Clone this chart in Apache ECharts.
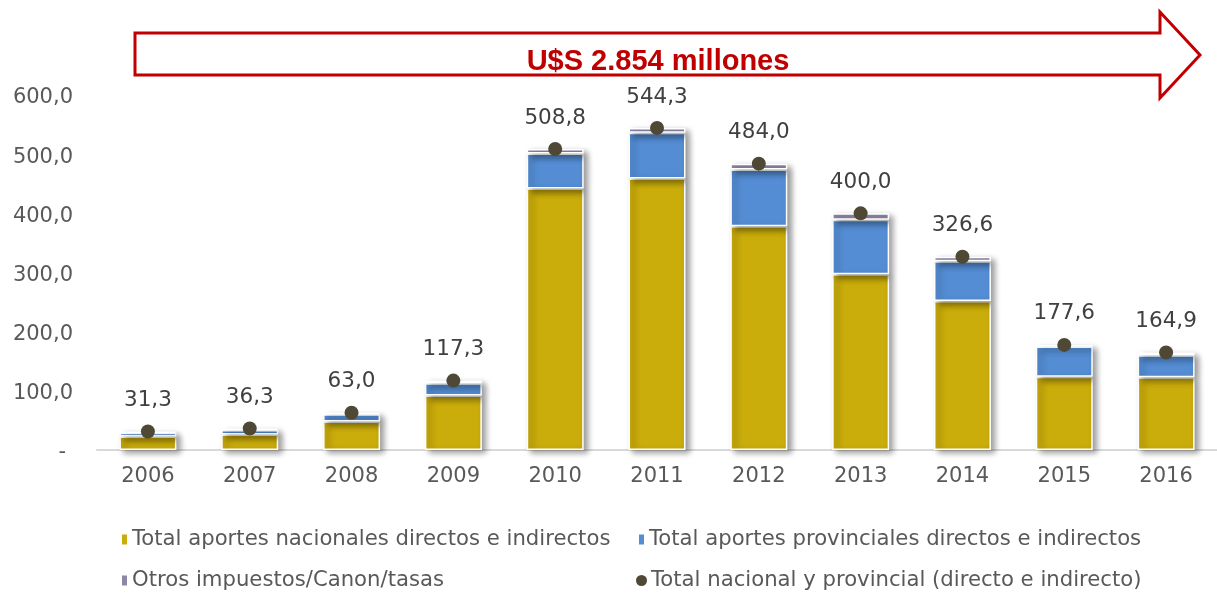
<!DOCTYPE html>
<html>
<head>
<meta charset="utf-8">
<script src="https://cdn.jsdelivr.net/npm/echarts@6/dist/echarts.min.js"></script>
<style>
  html, body { margin: 0; padding: 0; background: #fff; }
  #chart { width: 1217px; height: 595px; }
</style>
</head>
<body>
<div id="chart"></div>
<script>
// Years on the category axis
const years = ['2006', '2007', '2008', '2009', '2010', '2011', '2012', '2013', '2014', '2015', '2016'];

// Stacked contributions (millones de U$S)
const nacionales = [23, 26, 48, 92, 442, 459, 378, 297, 252, 124, 123];
const provinciales = [6, 8, 12.5, 21, 59, 77, 96, 92, 67, 51, 37];
const otros = [2.3, 2.3, 2.5, 4.3, 7.8, 8.3, 10, 11, 7.6, 2.6, 4.9];

// Total per year (labelled dots)
const totales = [31.3, 36.3, 63.0, 117.3, 508.8, 544.3, 484.0, 400.0, 326.6, 177.6, 164.9];

// Y axis ticks
const yTicks = [0, 100, 200, 300, 400, 500, 600];

const names = [
  'Total aportes nacionales directos e indirectos',
  'Total aportes provinciales directos e indirectos',
  'Otros impuestos/Canon/tasas',
  'Total nacional y provincial (directo e indirecto)'
];

const fmt = v => v.toFixed(1).replace('.', ',');
const font = '"DejaVu Sans", sans-serif';

const chart = echarts.init(document.getElementById('chart'));

const barStyle = color => ({
  color: color,
  borderColor: '#ffffff',
  borderWidth: 1.5,
  shadowColor: 'rgba(0,0,0,0.4)',
  shadowBlur: 6,
  shadowOffsetX: 4,
  shadowOffsetY: 3
});

const legendBase = {
  itemWidth: 7,
  itemHeight: 12,
  itemGap: 4,
  textStyle: { fontFamily: font, fontSize: 21.2, color: '#595959', padding: [0, 0, 0, -1] },
  selectedMode: false
};

const yLabelText = { fontSize: 21, color: '#595959', fontFamily: font };

chart.setOption({
  animation: false,
  textStyle: { fontFamily: font },
  grid: { left: 97, top: 95, width: 1124, height: 355 },
  xAxis: {
    type: 'category',
    data: years,
    axisLine: { lineStyle: { color: '#d9d9d9', width: 2 } },
    axisTick: { show: false },
    axisLabel: { fontSize: 21, color: '#595959', margin: 16, fontFamily: font }
  },
  yAxis: {
    type: 'value',
    min: yTicks[0],
    max: yTicks[yTicks.length - 1],
    interval: yTicks[1] - yTicks[0],
    splitLine: { show: false },
    axisLine: { show: false },
    axisTick: { show: false },
    axisLabel: {
      margin: 24,
      formatter: v => (v === 0 ? '{z|-}' : '{n|' + fmt(v) + '}'),
      rich: {
        n: Object.assign({ padding: [6, 0, 0, 0] }, yLabelText),
        z: Object.assign({ padding: [6, 7, 0, 0] }, yLabelText)
      }
    }
  },
  legend: [
    Object.assign({}, legendBase, { data: [{ name: names[0], icon: 'rect' }], left: 115, top: 524 }),
    Object.assign({}, legendBase, { data: [{ name: names[1], icon: 'rect' }], left: 632, top: 524 }),
    Object.assign({}, legendBase, { data: [{ name: names[2], icon: 'rect' }], left: 115, top: 565 }),
    Object.assign({}, legendBase, { data: [{ name: names[3], icon: 'circle' }], left: 631, top: 565, itemWidth: 11, itemHeight: 14 })
  ],
  graphic: [
    {
      type: 'polygon',
      z: 1,
      shape: {
        points: [[135, 33], [1160, 33], [1160, 12], [1200, 55], [1160, 98], [1160, 75], [135, 75]]
      },
      style: { fill: '#ffffff', stroke: '#c00000', lineWidth: 3 }
    },
    {
      type: 'text',
      z: 2,
      style: {
        text: 'U$S 2.854 millones',
        x: 658,
        y: 62,
        align: 'center',
        verticalAlign: 'middle',
        fill: '#c00000',
        font: 'bold 29px "Liberation Sans", Arial, sans-serif'
      }
    }
  ],
  series: [
    { name: names[0], type: 'bar', stack: 'total', barWidth: 57, data: nacionales, itemStyle: barStyle('#caac0b') },
    { name: names[1], type: 'bar', stack: 'total', barWidth: 57, data: provinciales, itemStyle: barStyle('#548dd4') },
    { name: names[2], type: 'bar', stack: 'total', barWidth: 57, data: otros, itemStyle: barStyle('#8d88a8') },
    {
      name: names[3],
      type: 'scatter',
      data: totales,
      symbol: 'circle',
      symbolSize: 14,
      z: 5,
      itemStyle: { color: '#4f4835', opacity: 1 },
      label: {
        show: true,
        position: 'top',
        distance: 13,
        fontSize: 21.5,
        color: '#404040',
        fontFamily: font,
        formatter: p => fmt(p.value)
      }
    }
  ]
});
</script>
</body>
</html>
